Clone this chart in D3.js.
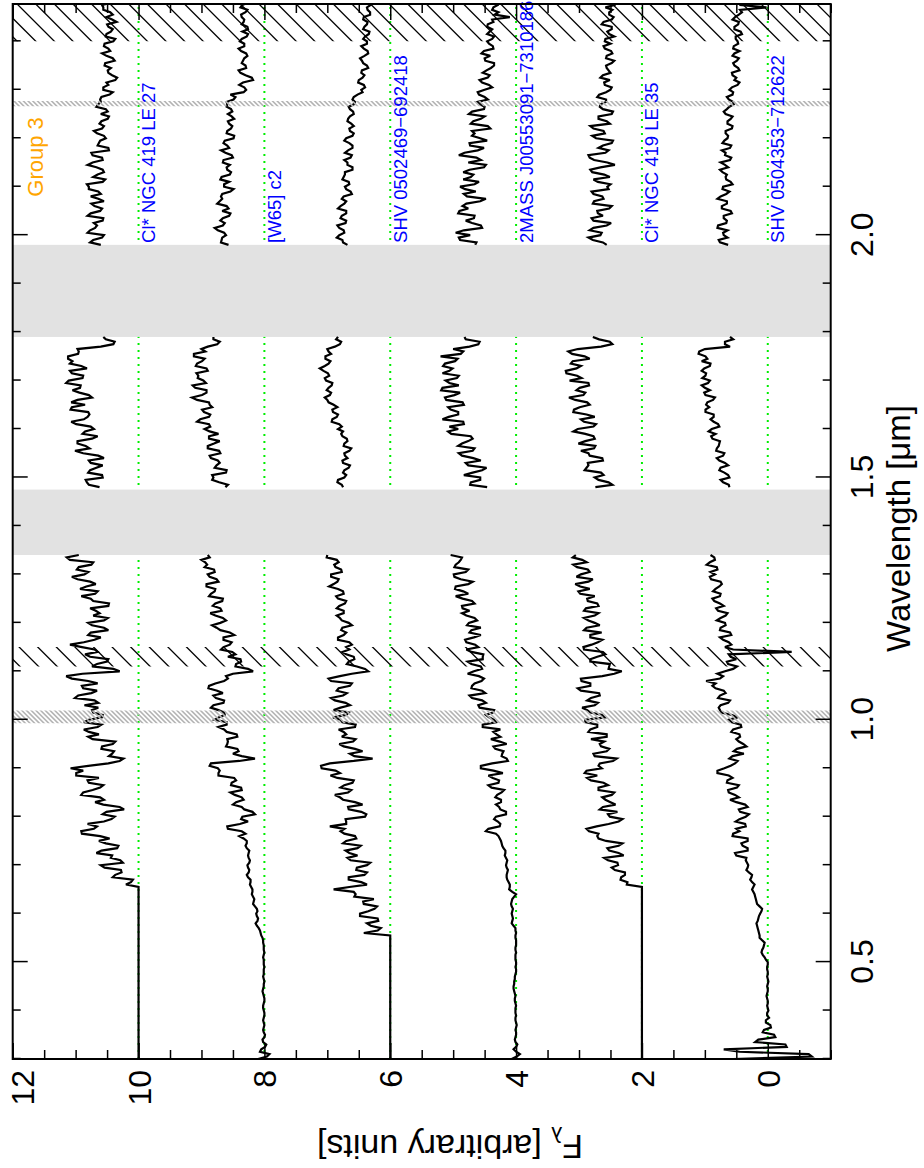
<!DOCTYPE html>
<html><head><meta charset="utf-8">
<script src="https://cdn.jsdelivr.net/npm/d3@7"></script>
<style>body{margin:0;background:#fff}svg{display:block}text{font-family:"Liberation Sans",Arial,Helvetica,sans-serif}</style>
</head><body><svg id="c" width="924" height="1168"></svg>
<script>
// ---------------- data ----------------
const offsets = [10, 8, 6, 4, 2, 0];
const names = ["Cl* NGC 419 LE 27","[W65] c2","SHV 0502469\u2212692418","2MASS J00553091\u22127310186","Cl* NGC 419 LE 35","SHV 0504353\u2212712622"];
const groupLabel = "Group 3";
const xDomain = [0.3, 2.477];
const yDomain = [-1, 12];
const xMajor = [0.5, 1.0, 1.5, 2.0];
const xMinor = [0.3,0.4,0.6,0.7,0.8,0.9,1.1,1.2,1.3,1.4,1.6,1.7,1.8,1.9,2.1,2.2,2.3,2.4];
const yMajor = [0, 2, 4, 6, 8, 10, 12];
const yMinor = [-1,-0.5,0.5,1,1.5,2.5,3,3.5,4.5,5,5.5,6.5,7,7.5,8.5,9,9.5,10.5,11,11.5];
const greyBands = [[1.34, 1.475], [1.79, 1.98]];
const blackHatch = [[1.11, 1.15], [2.40, 2.48]];
const greyHatch = [[0.993, 1.019], [2.266, 2.277]];
const segStarts = [0.30, 1.48, 1.98];   // start wavelength of each observed segment
const segStep = 0.01;                   // main samples every 0.01 micron; "Mid" arrays hold the samples half-way between

const s1Opt = [10,10,10,10,10,10,10,10,10,10,10,10,10,10,10,10,10,10,10,10,10,10,10,10,10,10,10,10,10,10,10,10,10,10,10,10,
10.20,10.09,10.37,10.28,10.60,10.29,10.42,10.59,10.32,10.63,10.61,10.91,10.66,10.55,10.38,10.51,10.30,10.69,10.61,10.88,
10.61,10.79,10.63,10.99,11.08,10.48,10.24,10.42,10.59,10.41,10.73,10.63,10.87,10.59,10.79,10.57,10.74,10.86,10.70,10.96,
10.66,10.90,10.80,11.15,10.30,10.74,10.50,10.77,10.65,10.90,10.87,10.60,10.76,10.55,10.80,10.49,10.62,10.77,10.47,10.76,
10.69,10.93,10.68,10.97,10.86,10.98,10.75,11.09,10.95];
const s1OptMid = [10,10,10,10,10,10,10,10,10,10,10,10,10,10,10,10,10,10,10,10,10,10,10,10,10,10,10,10,10,10,10,10,10,10,10,10,
10.12,10.41,10.27,10.54,10.25,10.44,10.67,10.34,10.52,10.46,10.90,10.71,10.81,10.43,10.57,10.23,10.56,10.55,10.91,10.73,
10.56,10.81,10.99,10.88,10.80,10.30,10.47,10.39,10.58,10.37,10.80,10.79,10.65,10.87,10.58,10.72,10.64,10.64,11.01,10.75,
10.88,10.65,11.06,10.89,10.40,10.66,10.48,10.85,10.70,11.09,10.70,10.80,10.48,10.74,10.55,10.72,10.68,10.48,10.72,10.91,
10.65,10.83,10.77,11.06,10.80,10.95,10.72,11.14];
const s1H = [10.62,10.82,10.57,10.80,10.67,10.76,10.55,10.88,10.78,10.97,10.74,10.89,10.71,10.99,10.87,10.78,11.08,10.85,10.97,10.79,11.05,10.92,11.11,10.88,11.09,10.91,11.05,11.12,10.95,10.60,10.38,10.56];
const s1HMid = [10.79,10.84,10.58,10.77,10.57,10.79,10.64,11.01,10.84,10.97,10.65,10.85,10.76,11.07,10.81,10.80,11.06,11.07,10.74,10.94,10.93,11.15,10.89,11.06,10.82,11.09,11.12,10.96,10.97,10.40,10.52];
const s1K = [10.60,10.72,10.55,10.77,10.66,10.57,10.81,10.61,10.70,10.55,10.76,10.64,10.79,10.57,10.72,10.55,10.67,10.73,10.58,10.75,10.48,10.63,10.52,10.66,10.58,10.62,10.49,10.60,10.52,10.64,10.61,10.46,10.56,10.48,10.37,10.42,10.49,10.54,10.38,10.51,10.45,10.55,10.40,10.52,10.44,10.48,10.35,10.51,10.45,10.56,10.42];
const s1KMid = [10.77,10.58,10.81,10.69,10.71,10.56,10.76,10.58,10.75,10.64,10.60,10.79,10.82,10.53,10.65,10.57,10.81,10.57,10.73,10.47,10.65,10.61,10.55,10.71,10.55,10.59,10.47,10.49,10.67,10.60,10.59,10.41,10.56,10.51,10.34,10.48,10.44,10.53,10.41,10.58,10.48,10.54,10.37,10.51,10.41,10.50,10.42,10.41,10.56,10.58];

const s2Opt = [8.10,7.92,8.05,7.97,8.03,7.99,8.02,8.00,8.02,8.00,8.01,8.02,8.00,8.01,8.03,8.01,8.00,8.02,8.01,8.00,
8.01,8.02,8.00,8.01,8.02,8.03,8.06,8.09,8.14,8.10,8.13,8.12,8.18,8.16,8.20,8.19,8.23,8.22,8.28,8.24,
8.27,8.23,8.26,8.24,8.30,8.28,8.40,8.36,8.59,8.26,8.35,8.19,8.36,8.45,8.36,8.54,8.37,8.52,8.48,8.73,
8.74,8.85,8.15,8.50,8.43,8.59,8.59,8.44,8.64,8.60,8.79,8.63,8.73,8.81,8.64,8.81,8.75,8.88,8.64,8.61,
8.18,8.46,8.37,8.58,8.51,8.65,8.52,8.65,8.55,8.76,8.70,8.66,8.86,8.70,8.78,8.66,8.85,8.78,8.92,8.76,
8.90,8.80,8.91,9.00,8.90];
const s2OptMid = [7.96,8.07,7.99,8.02,8.00,8.01,8.01,8.01,8.01,8.00,8.02,8.01,8.00,8.02,8.02,8.01,8.01,8.01,8.01,8.01,
8.01,8.01,8.01,8.01,8.02,8.05,8.07,8.12,8.11,8.12,8.11,8.15,8.17,8.18,8.19,8.21,8.22,8.26,8.25,8.26,
8.24,8.25,8.25,8.28,8.28,8.33,8.30,8.58,8.39,8.37,8.15,8.32,8.50,8.33,8.47,8.36,8.53,8.45,8.73,8.71,
8.87,8.40,8.36,8.41,8.61,8.58,8.43,8.60,8.73,8.60,8.72,8.64,8.85,8.65,8.77,8.66,8.89,8.78,8.58,8.50,
8.26,8.45,8.38,8.46,8.69,8.55,8.65,8.48,8.70,8.83,8.61,8.78,8.68,8.82,8.67,8.88,8.79,8.92,8.73,8.87,
8.79,8.95,8.94,8.87];
const s2H = [8.62,8.72,8.81,8.61,8.79,8.71,8.85,8.70,8.90,8.80,8.88,8.73,8.95,8.88,9.02,8.86,8.99,8.87,9.07,8.99,8.92,9.14,8.97,9.05,8.90,9.09,8.99,9.12,8.94,8.90,8.71,8.81];
const s2HMid = [8.58,8.83,8.83,8.60,8.76,8.74,8.87,8.72,8.90,8.71,8.88,8.87,8.86,9.07,8.88,8.96,8.83,8.88,9.15,8.92,9.10,8.93,9.06,9.08,8.92,9.07,8.95,9.12,9.00,8.75,8.81];
const s2K = [8.57,8.68,8.61,8.74,8.66,8.70,8.56,8.67,8.60,8.71,8.69,8.54,8.64,8.56,8.68,8.53,8.60,8.66,8.50,8.62,8.56,8.65,8.49,8.60,8.53,8.56,8.48,8.58,8.53,8.59,8.49,8.54,8.29,8.40,8.18,8.30,8.41,8.30,8.34,8.27,8.37,8.32,8.39,8.28,8.35,8.27,8.33,8.36,8.30,8.38,8.26];
const s2KMid = [8.69,8.67,8.64,8.79,8.63,8.66,8.54,8.57,8.75,8.67,8.67,8.49,8.64,8.70,8.55,8.59,8.55,8.65,8.52,8.69,8.59,8.63,8.48,8.59,8.51,8.58,8.52,8.51,8.60,8.60,8.46,8.33,8.32,8.34,8.20,8.38,8.29,8.36,8.32,8.29,8.41,8.32,8.36,8.26,8.26,8.36,8.32,8.37,8.27,8.35];

const s3Opt = [6,6,6,6,6,6,6,6,6,6,6,6,6,6,6,6,6,6,6,6,6,6,6,6,6,6,
6.42,6.15,6.37,6.20,6.48,6.25,6.42,6.26,6.55,6.90,6.37,6.66,6.41,6.54,6.37,6.63,6.52,6.71,6.47,6.70,
6.56,6.79,6.96,6.70,6.40,6.46,6.67,6.56,6.80,6.67,6.79,6.60,6.84,6.80,7.09,6.96,6.28,6.64,6.56,6.81,
6.55,6.70,6.82,6.55,6.79,6.70,6.90,6.64,6.88,6.75,6.85,6.64,6.94,6.80,6.35,6.53,6.66,6.58,6.76,6.70,
6.65,6.83,6.70,6.76,6.66,6.80,6.74,6.85,6.72,6.83,6.74,6.83,6.90,6.82,6.94,6.78,6.89,6.85,7.00];
const s3OptMid = [6,6,6,6,6,6,6,6,6,6,6,6,6,6,6,6,6,6,6,6,6,6,6,6,6,6,
6.20,6.31,6.19,6.48,6.35,6.21,6.43,6.57,6.58,6.65,6.46,6.66,6.37,6.53,6.32,6.68,6.65,6.52,6.75,6.54,
6.73,6.73,6.70,6.71,6.38,6.66,6.44,6.75,6.88,6.62,6.73,6.58,6.95,6.87,7.10,6.58,6.57,6.44,6.74,6.59,
6.77,6.74,6.56,6.76,6.91,6.66,6.79,6.71,6.94,6.69,6.82,6.61,6.98,6.61,6.40,6.69,6.57,6.70,6.65,6.61,
6.83,6.74,6.78,6.61,6.77,6.85,6.74,6.81,6.70,6.86,6.75,6.97,6.84,6.94,6.77,6.87,6.82,7.01];
const s3H = [6.75,6.84,6.73,6.75,6.66,6.75,6.68,6.73,6.62,6.73,6.69,6.78,6.83,6.81,6.92,6.83,6.92,6.90,7.00,6.96,7.01,6.93,7.02,6.97,7.06,7.04,6.95,7.03,6.98,6.88,6.78,6.83];
const s3HMid = [6.77,6.83,6.70,6.73,6.64,6.76,6.72,6.65,6.74,6.68,6.76,6.75,6.77,6.93,6.85,6.91,6.84,6.98,7.04,6.94,6.98,6.92,7.04,6.99,7.12,6.98,7.03,6.94,7.00,6.80,6.86];
const s3K = [6.68,6.76,6.81,6.74,6.84,6.70,6.77,6.70,6.79,6.70,6.74,6.63,6.72,6.66,6.74,6.72,6.60,6.68,6.63,6.72,6.60,6.65,6.70,6.58,6.65,6.62,6.67,6.58,6.64,6.58,6.60,6.52,6.46,6.42,6.50,6.41,6.45,6.37,6.45,6.41,6.36,6.46,6.37,6.40,6.33,6.41,6.36,6.42,6.32,6.37,6.31];
const s3KMid = [6.75,6.85,6.73,6.81,6.71,6.79,6.70,6.83,6.73,6.77,6.61,6.70,6.65,6.76,6.72,6.60,6.68,6.73,6.61,6.67,6.60,6.73,6.60,6.64,6.58,6.68,6.64,6.59,6.66,6.56,6.58,6.44,6.40,6.51,6.44,6.46,6.35,6.43,6.48,6.35,6.42,6.37,6.43,6.34,6.43,6.37,6.43,6.32,6.36,6.31];

const s4Opt = [4.07,3.94,4.04,3.98,4.02,4.00,4.01,3.99,4.01,4.00,4.01,4.00,4.02,4.01,4.03,4.04,4.03,4.02,4.00,4.01,
4.00,4.01,4.00,4.01,4.00,4.01,4.00,4.01,4.07,4.05,4.07,4.05,4.08,4.06,4.00,4.11,4.10,4.14,4.15,4.13,
4.16,4.14,4.18,4.17,4.22,4.24,4.28,4.48,4.26,4.29,4.32,4.16,4.27,4.24,4.33,4.23,4.39,4.28,4.37,4.21,
4.56,4.38,4.15,4.22,4.33,4.15,4.40,4.31,4.25,4.53,4.35,4.48,4.35,4.60,4.54,4.74,4.54,4.70,4.55,4.59,
4.67,4.56,4.77,4.53,4.71,4.60,4.79,4.67,4.74,4.56,4.75,4.66,4.86,4.85,4.66,4.85,4.76,4.97,4.76,4.88,
4.99,4.76,4.96,4.88,5.04];
const s4OptMid = [3.99,4.00,4.00,4.01,4.01,4.00,4.00,4.00,4.01,4.01,4.01,4.01,4.02,4.02,4.04,4.03,4.02,4.01,4.00,4.00,
4.01,4.01,4.01,4.00,4.00,4.01,4.01,4.04,4.06,4.06,4.06,4.07,4.07,4.03,4.06,4.10,4.12,4.15,4.14,4.15,
4.15,4.16,4.17,4.20,4.23,4.26,4.32,4.44,4.25,4.35,4.16,4.25,4.32,4.24,4.30,4.19,4.44,4.27,4.44,4.36,
4.56,4.13,4.23,4.20,4.36,4.26,4.25,4.36,4.53,4.32,4.43,4.37,4.58,4.48,4.70,4.49,4.71,4.66,4.51,4.77,
4.54,4.71,4.53,4.52,4.79,4.65,4.81,4.56,4.71,4.78,4.62,4.79,4.74,4.86,4.70,4.96,4.84,4.96,4.69,4.98,
4.80,4.98,4.91,4.86];
const s4H = [4.46,4.72,4.57,4.69,4.47,4.80,4.68,4.91,4.66,4.86,4.69,5.03,4.92,4.83,5.17,4.92,5.04,4.83,5.11,4.98,5.19,4.91,5.12,4.91,5.06,5.16,4.97,5.20,4.84,4.74,4.58,4.82];
const s4HMid = [4.73,4.57,4.83,4.54,4.76,4.56,4.86,4.69,4.92,4.76,4.72,5.08,5.06,4.84,5.07,4.92,5.08,4.85,5.13,4.89,5.17,5.06,4.94,5.17,5.01,5.13,4.93,4.88,5.00,4.60,4.80];
const s4K = [4.65,4.89,4.73,4.83,4.56,4.80,4.66,4.90,4.85,4.57,4.78,4.64,4.89,4.59,4.72,4.84,4.51,4.76,4.63,4.82,4.51,4.74,4.57,4.66,4.41,4.72,4.56,4.75,4.51,4.57,4.45,4.59,4.50,4.43,4.58,4.42,4.47,4.35,4.49,4.41,4.51,4.37,4.46,4.35,4.42,4.46,4.36,4.10,4.28,4.36,4.30];
const s4KMid = [4.63,4.91,4.96,4.54,4.70,4.67,4.92,4.76,4.79,4.48,4.83,4.81,4.66,4.84,4.68,4.74,4.48,4.56,4.91,4.61,4.73,4.46,4.70,4.70,4.45,4.68,4.50,4.70,4.50,4.61,4.50,4.61,4.38,4.54,4.45,4.53,4.40,4.35,4.50,4.55,4.36,4.43,4.38,4.46,4.38,4.45,4.38,4.34,4.38,4.29];

const s5Opt = [2,2,2,2,2,2,2,2,2,2,2,2,2,2,2,2,2,2,2,2,2,2,2,2,2,2,2,2,2,2,2,2,2,2,2,2,
2.24,2.34,2.27,2.43,2.38,2.54,2.29,2.52,2.37,2.57,2.71,2.84,2.72,2.37,2.51,2.39,2.62,2.50,2.63,2.44,
2.69,2.61,2.87,2.91,2.64,2.67,2.40,2.77,2.52,2.67,2.81,2.56,2.82,2.71,2.90,2.63,2.87,2.75,2.87,2.67,
2.97,2.82,2.96,2.63,2.32,2.52,2.82,2.71,2.62,2.93,2.70,2.82,2.64,2.88,2.75,2.92,2.69,2.89,2.71,2.87,
2.98,2.83,3.06,2.78,2.97,2.86,3.09,2.95,3.05];
const s5OptMid = [2,2,2,2,2,2,2,2,2,2,2,2,2,2,2,2,2,2,2,2,2,2,2,2,2,2,2,2,2,2,2,2,2,2,2,2,
2.23,2.33,2.27,2.48,2.39,2.60,2.37,2.55,2.31,2.69,2.69,2.88,2.53,2.31,2.54,2.67,2.42,2.58,2.48,2.69,
2.54,2.81,2.71,2.88,2.69,2.46,2.75,2.56,2.65,2.60,2.56,2.85,2.71,2.90,2.59,2.82,2.95,2.70,2.81,2.68,
3.02,2.82,2.97,2.44,2.53,2.51,2.82,2.58,2.92,2.80,2.63,2.82,2.92,2.67,2.85,2.75,2.92,2.69,2.86,2.75,
3.01,2.98,2.85,3.04,2.83,3.03,2.88,3.10];
const s5H = [2.74,2.53,2.75,2.65,2.88,2.86,2.63,2.85,2.76,3.01,2.75,2.90,3.02,2.73,2.97,2.88,3.08,2.83,3.06,2.93,3.04,2.84,3.15,3.03,3.21,2.97,3.10,2.91,3.17,2.65,2.51,2.78];
const s5HMid = [2.47,2.69,2.61,2.91,2.85,2.62,2.83,2.97,2.74,2.90,2.77,3.09,2.77,2.92,2.75,3.09,2.99,2.87,3.16,2.90,2.99,2.85,2.96,3.20,3.04,3.13,2.83,3.11,3.02,2.47,2.68];
const s5K = [2.56,2.78,2.66,2.83,2.56,2.77,2.62,2.71,2.48,2.76,2.63,2.80,2.55,2.70,2.51,2.79,2.66,2.55,2.83,2.58,2.69,2.48,2.73,2.59,2.77,2.51,2.69,2.48,2.62,2.66,2.57,2.68,2.50,2.59,2.51,2.62,2.53,2.57,2.44,2.56,2.49,2.61,2.59,2.44,2.55,2.48,2.61,2.45,2.52,2.58,2.42];
const s5KMid = [2.62,2.85,2.64,2.77,2.49,2.80,2.70,2.52,2.78,2.61,2.77,2.53,2.50,2.77,2.60,2.82,2.43,2.76,2.85,2.53,2.62,2.46,2.79,2.61,2.82,2.56,2.69,2.46,2.67,2.57,2.71,2.57,2.48,2.60,2.66,2.50,2.56,2.48,2.57,2.47,2.59,2.50,2.58,2.52,2.48,2.64,2.48,2.52,2.47,2.43];

const s6Opt = [0.55,-0.65,0.70,-0.28,0.15,-0.10,0.06,-0.04,0.03,0.01,-0.01,0.01,0.00,0.02,0.00,0.01,-0.01,0.01,0.00,0.01,
0.00,0.05,0.10,0.07,0.05,0.13,0.14,0.16,0.18,0.15,0.12,0.09,0.17,0.19,0.21,0.25,0.21,0.28,0.25,0.34,
0.31,0.35,0.50,0.32,0.40,0.32,0.56,0.45,0.35,0.51,0.35,0.44,0.32,0.50,0.46,0.62,0.49,0.65,0.56,0.80,
0.69,0.52,0.61,0.38,0.49,0.39,0.50,0.45,0.55,0.43,0.62,0.57,0.76,0.75,0.60,0.76,0.70,0.88,0.98,0.71,
0.68,0.49,0.65,0.59,-0.38,0.68,0.62,0.76,0.60,0.75,0.68,0.75,0.64,0.82,0.76,0.88,0.75,0.83,0.73,0.90,
0.84,0.80,0.97,0.84,0.91];
const s6OptMid = [-0.70,0.45,-0.30,0.20,-0.12,0.08,-0.05,0.03,-0.02,0.01,0.00,0.00,0.01,0.01,0.00,0.00,0.00,0.00,0.01,0.00,
0.03,0.08,0.09,0.06,0.09,0.13,0.15,0.17,0.16,0.14,0.10,0.13,0.18,0.20,0.23,0.23,0.25,0.26,0.30,0.32,
0.33,0.34,0.52,0.32,0.42,0.32,0.55,0.50,0.36,0.45,0.30,0.46,0.36,0.60,0.52,0.63,0.46,0.64,0.62,0.80,
0.59,0.48,0.56,0.54,0.34,0.46,0.44,0.58,0.42,0.57,0.48,0.74,0.78,0.63,0.79,0.67,0.83,0.83,0.76,0.80,
0.55,0.63,0.50,0.62,0.55,0.58,0.71,0.58,0.76,0.67,0.81,0.67,0.79,0.70,0.85,0.76,0.87,0.77,0.75,0.92,
0.91,0.81,0.92,0.85];
const s6H = [0.61,0.71,0.61,0.69,0.75,0.68,0.81,0.69,0.81,0.77,0.88,0.83,0.89,0.79,0.91,0.86,0.99,0.98,0.87,0.99,0.92,1.05,0.92,0.99,1.05,0.92,1.05,0.99,1.09,0.60,0.68,0.60];
const s6HMid = [0.62,0.75,0.63,0.77,0.63,0.77,0.71,0.82,0.78,0.76,0.90,0.94,0.77,0.86,0.86,0.99,0.93,0.96,0.84,1.01,1.00,0.95,1.04,0.98,1.01,0.91,0.96,1.10,1.00,0.68,0.55];
const s6K = [0.63,0.78,0.70,0.64,0.79,0.65,0.70,0.59,0.73,0.65,0.75,0.61,0.71,0.59,0.67,0.72,0.63,0.75,0.58,0.67,0.60,0.72,0.64,0.67,0.57,0.64,0.59,0.67,0.65,0.54,0.62,0.56,0.61,0.48,0.53,0.56,0.45,0.53,0.49,0.56,0.45,0.54,0.48,0.51,0.43,0.53,0.46,0.52,0.41,0.02,0.37];
const s6KMid = [0.76,0.64,0.71,0.80,0.66,0.70,0.57,0.73,0.65,0.80,0.66,0.72,0.56,0.66,0.65,0.76,0.68,0.60,0.68,0.73,0.58,0.69,0.63,0.67,0.56,0.64,0.56,0.70,0.61,0.55,0.65,0.55,0.57,0.45,0.50,0.57,0.47,0.55,0.46,0.53,0.55,0.47,0.51,0.41,0.53,0.47,0.56,0.46,0.44,0.45];

const spectra = [
  [[s1Opt,s1OptMid],[s1H,s1HMid],[s1K,s1KMid]],
  [[s2Opt,s2OptMid],[s2H,s2HMid],[s2K,s2KMid]],
  [[s3Opt,s3OptMid],[s3H,s3HMid],[s3K,s3KMid]],
  [[s4Opt,s4OptMid],[s4H,s4HMid],[s4K,s4KMid]],
  [[s5Opt,s5OptMid],[s5H,s5HMid],[s5K,s5KMid]],
  [[s6Opt,s6OptMid],[s6H,s6HMid],[s6K,s6KMid]]
];

// ---------------- drawing ----------------
const W = 924, H = 1168;
const U0 = 109, U1 = 1164, V0 = 12.7, V1 = 830.7;   // plot box in the unrotated frame
const FONT = '"Liberation Sans", Arial, Helvetica, sans-serif';
const svg = d3.select("#c");
svg.append("rect").attr("width", W).attr("height", H).attr("fill", "#fff");
const defs = svg.append("defs");
const g = svg.append("g").attr("transform", `translate(0,${H}) rotate(-90)`);

const x = d3.scaleLinear().domain(xDomain).range([U0, U1]);
const y = d3.scaleLinear().domain(yDomain).range([V1, V0]);

defs.append("clipPath").attr("id", "plotclip").append("rect")
  .attr("x", U0).attr("y", V0).attr("width", U1 - U0).attr("height", V1 - V0);
const plot = g.append("g").attr("clip-path", "url(#plotclip)");

// green dotted reference lines
plot.selectAll("line.ref").data(offsets).join("line").attr("class", "ref")
  .attr("x1", x(xDomain[0])).attr("x2", x(xDomain[1]))
  .attr("y1", d => y(d)).attr("y2", d => y(d))
  .attr("stroke", "#00ee00").attr("stroke-width", 2).attr("stroke-dasharray", "2,5");

// grey telluric bands
plot.selectAll("rect.band").data(greyBands).join("rect").attr("class", "band")
  .attr("x", d => x(d[0])).attr("width", d => x(d[1]) - x(d[0]))
  .attr("y", V0).attr("height", V1 - V0).attr("fill", "#e2e2e2");

let hid = 0;
function hatch(band, spacing, color, width, phase) {
  const u1 = Math.max(U0, x(band[0])), u2 = Math.min(U1, x(band[1]));
  const id = "hc" + (hid++);
  defs.append("clipPath").attr("id", id).append("rect")
    .attr("x", u1).attr("y", V0).attr("width", u2 - u1).attr("height", V1 - V0);
  const hg = plot.append("g").attr("clip-path", `url(#${id})`);
  const cMin = u1 + V0, cMax = u2 + V1;
  const start = Math.floor((cMin - phase) / spacing) * spacing + phase;
  const cs = d3.range(start, cMax + spacing, spacing);
  hg.selectAll("line").data(cs).join("line")
    .attr("x1", c => c - V0).attr("y1", V0).attr("x2", c => c - V1).attr("y2", V1)
    .attr("stroke", color).attr("stroke-width", width);
}
hatch(blackHatch[0], 18.6, "#000", 1.3, 0.7);
hatch(blackHatch[1], 18.6, "#000", 1.3, 9.3);

// spectra: main samples interleaved with the half-step samples
function merge(main, mid) {
  const out = [];
  main.forEach((v, i) => { out.push(v); if (i < main.length - 1 && i < mid.length) out.push(mid[i]); });
  return out;
}
const line = (start) => d3.line().x((d, i) => x(start + i * segStep / 2)).y(d => y(d));
spectra.forEach(segs => {
  segs.forEach(([main, mid], k) => {
    plot.append("path").datum(merge(main, mid)).attr("d", line(segStarts[k]))
      .attr("fill", "none").attr("stroke", "#000").attr("stroke-width", 2.2)
      .attr("stroke-linejoin", "miter").attr("stroke-miterlimit", 3);
  });
});

// grey hatched regions on top
hatch(greyHatch[0], 4.7, "#b4b4b4", 1.6, 0);
hatch(greyHatch[1], 4.7, "#b4b4b4", 1.6, 0);

// labels
g.selectAll("text.name").data(names).join("text").attr("class", "name")
  .attr("x", x(1.984)).attr("y", (d, i) => y(offsets[i]) + 16.5)
  .attr("fill", "#0000ff").attr("font-size", 18.5).attr("font-family", FONT).text(d => d);
g.append("text").attr("x", x(2.0) + 38.5).attr("y", 42.5)
  .attr("fill", "#ffa500").attr("font-size", 22).attr("font-family", FONT).text(groupLabel);

// axes (ticks inward on all four sides)
function styleAxis(sel) {
  sel.select(".domain").remove();
  sel.selectAll("line").attr("stroke", "#000").attr("stroke-width", 1.5);
  sel.attr("font-family", FONT);
}
const fmt = d3.format(".1f");
const axB = g.append("g").attr("transform", `translate(0,${V1})`)
  .call(d3.axisBottom(x).tickValues(xMajor).tickSize(-15).tickPadding(0).tickFormat(fmt)).call(styleAxis);
axB.selectAll("text").attr("font-size", 32).attr("fill", "#000").attr("dy", null).attr("y", 42.5);
g.append("g").attr("transform", `translate(0,${V1})`)
  .call(d3.axisBottom(x).tickValues(xMinor).tickSize(-8).tickFormat("")).call(styleAxis);
g.append("g").attr("transform", `translate(0,${V0})`)
  .call(d3.axisTop(x).tickValues(xMajor).tickSize(-15).tickFormat("")).call(styleAxis);
g.append("g").attr("transform", `translate(0,${V0})`)
  .call(d3.axisTop(x).tickValues(xMinor).tickSize(-8).tickFormat("")).call(styleAxis);

const axL = g.append("g").attr("transform", `translate(${U0},0)`)
  .call(d3.axisLeft(y).tickValues(yMajor).tickSize(-16).tickPadding(11).tickFormat(d3.format("d"))).call(styleAxis);
axL.selectAll("text").attr("font-size", 32).attr("fill", "#000").attr("dy", "0.36em");
axL.selectAll(".tick").filter(d => d === 12).select("text").attr("dy", "0.64em");
g.append("g").attr("transform", `translate(${U0},0)`)
  .call(d3.axisLeft(y).tickValues(yMinor).tickSize(-9).tickFormat("")).call(styleAxis);
g.append("g").attr("transform", `translate(${U1},0)`)
  .call(d3.axisRight(y).tickValues(yMajor).tickSize(-16).tickFormat("")).call(styleAxis);
g.append("g").attr("transform", `translate(${U1},0)`)
  .call(d3.axisRight(y).tickValues(yMinor).tickSize(-9).tickFormat("")).call(styleAxis);

// frame
g.append("rect").attr("x", U0).attr("y", V0).attr("width", U1 - U0).attr("height", V1 - V0)
  .attr("fill", "none").attr("stroke", "#000").attr("stroke-width", 2);

// axis titles
g.append("text").attr("x", 639.5).attr("y", 910).attr("text-anchor", "middle")
  .attr("font-size", 33).attr("font-family", FONT).text("Wavelength [\u03bcm]");
const yt = g.append("text").attr("transform", `translate(33,450) rotate(-90)`)
  .attr("text-anchor", "middle").attr("font-size", 34).attr("font-family", FONT);
yt.append("tspan").text("F");
yt.append("tspan").attr("font-size", 22).attr("dy", 8).text("\u03bb");
yt.append("tspan").attr("dy", -8).text(" [arbitrary units]");
</script></body></html>
